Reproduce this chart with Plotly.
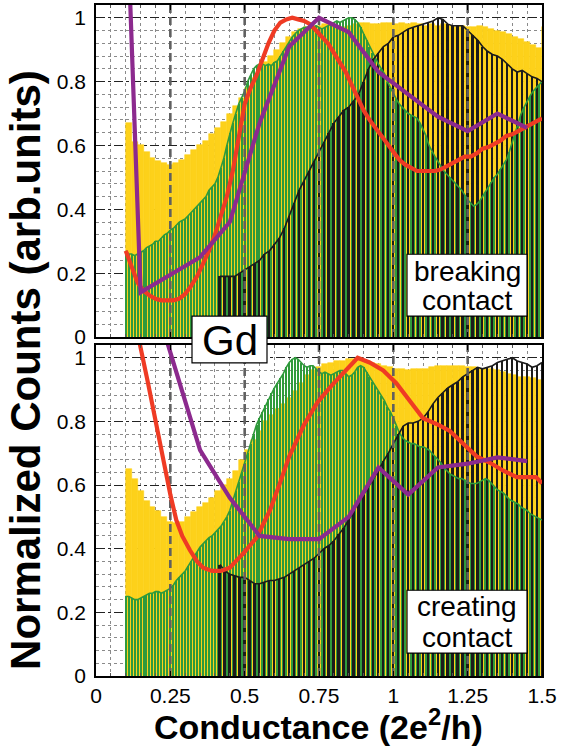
import numpy as np
import plotly.graph_objects as go

# ---------------- data ----------------
# green histogram (0.01 bins, x = 0.10 ... 1.50)
green_top = [0.27,0.26,0.26,0.255,0.26,0.265,0.27,0.28,0.285,0.29,
             0.30,0.30,0.31,0.32,0.325,0.335,0.34,0.35,0.36,0.365,
             0.37,0.38,0.39,0.40,0.41,0.42,0.43,0.44,0.46,0.47,
             0.48,0.50,0.53,0.56,0.60,0.64,0.67,0.70,0.73,0.75,
             0.77,0.80,0.82,0.84,0.85,0.855,0.855,0.85,0.855,0.85,
             0.86,0.865,0.88,0.895,0.91,0.925,0.94,0.95,0.96,0.965,
             0.97,0.97,0.965,0.97,0.975,0.97,0.965,0.97,0.975,0.98,
             0.985,0.99,0.985,0.99,0.995,1.0,1.0,0.995,0.985,0.97,
             0.95,0.93,0.91,0.89,0.87,0.855,0.84,0.825,0.80,0.78,
             0.76,0.745,0.73,0.72,0.71,0.70,0.695,0.69,0.685,0.67,
             0.65,0.63,0.60,0.58,0.565,0.55,0.535,0.52,0.51,0.50,
             0.49,0.48,0.47,0.46,0.445,0.43,0.42,0.41,0.415,0.425,
             0.44,0.455,0.47,0.485,0.50,0.51,0.525,0.54,0.555,0.58,
             0.61,0.64,0.67,0.70,0.72,0.74,0.755,0.77,0.78,0.79,0.80]
green_bot = [0.25,0.25,0.245,0.24,0.24,0.245,0.25,0.255,0.26,0.26,
             0.265,0.265,0.26,0.265,0.27,0.275,0.285,0.30,0.31,0.32,
             0.33,0.345,0.36,0.375,0.39,0.405,0.415,0.425,0.435,0.44,
             0.45,0.46,0.47,0.485,0.50,0.52,0.55,0.58,0.61,0.64,
             0.67,0.70,0.73,0.76,0.79,0.81,0.83,0.85,0.87,0.89,
             0.905,0.92,0.935,0.95,0.97,0.985,0.995,1.0,0.995,0.985,
             0.975,0.97,0.975,0.975,0.965,0.955,0.95,0.955,0.95,0.945,
             0.95,0.955,0.96,0.96,0.95,0.94,0.945,0.955,0.97,0.975,
             0.97,0.955,0.94,0.925,0.91,0.895,0.88,0.865,0.845,0.83,
             0.81,0.785,0.765,0.75,0.74,0.735,0.73,0.73,0.725,0.72,
             0.72,0.715,0.71,0.70,0.69,0.68,0.67,0.655,0.645,0.635,
             0.63,0.625,0.62,0.62,0.615,0.61,0.605,0.605,0.605,0.61,
             0.615,0.62,0.615,0.605,0.595,0.585,0.58,0.575,0.565,0.555,
             0.55,0.545,0.54,0.53,0.525,0.52,0.51,0.505,0.50,0.495,0.49]
green_x = np.round(np.arange(0.10, 1.5001, 0.01), 2)

# yellow histogram (0.02 bins, left edges x = 0.10 ... 1.50)
yellow_top = [0.67,0.61,0.60,0.58,0.56,0.55,0.545,0.54,0.545,0.555,
              0.57,0.585,0.60,0.615,0.635,0.655,0.675,0.70,0.725,0.75,
              0.78,0.81,0.835,0.86,0.88,0.90,0.92,0.94,0.955,0.965,
              0.97,0.975,0.975,0.98,0.98,0.975,0.97,0.975,0.98,0.985,
              0.985,0.98,0.98,0.985,0.985,0.98,0.985,0.98,0.985,0.98,
              0.975,0.98,0.975,0.98,0.975,0.97,0.975,0.97,0.97,0.975,
              0.97,0.965,0.96,0.955,0.95,0.94,0.935,0.925,0.915,0.905,0.97]
yellow_bot = [0.65,0.62,0.58,0.55,0.53,0.52,0.50,0.485,0.48,0.485,
              0.50,0.515,0.53,0.545,0.56,0.58,0.60,0.62,0.645,0.68,
              0.71,0.74,0.77,0.80,0.82,0.84,0.855,0.875,0.895,0.92,
              0.945,0.96,0.97,0.98,0.985,0.99,0.99,0.995,0.995,0.995,
              0.99,0.985,0.98,0.975,0.97,0.965,0.965,0.96,0.965,0.965,
              0.965,0.97,0.975,0.975,0.975,0.975,0.975,0.97,0.97,0.965,
              0.965,0.965,0.96,0.955,0.95,0.945,0.94,0.94,0.935,0.93,0.93]
yellow_x = np.round(np.arange(0.10, 1.5001, 0.02), 2)

# black histogram (1/60 bins, x = 25/60 ... 90/60)
black_top = [0.19,0.19,0.19,0.19,0.20,0.21,0.22,0.23,0.24,0.26,
             0.27,0.29,0.31,0.34,0.38,0.42,0.46,0.49,0.52,0.55,
             0.58,0.61,0.64,0.67,0.69,0.71,0.72,0.74,0.76,0.80,
             0.84,0.87,0.89,0.91,0.92,0.94,0.945,0.955,0.965,0.97,
             0.975,0.98,0.985,0.99,1.0,0.995,0.98,0.975,0.975,0.975,
             0.96,0.945,0.93,0.91,0.895,0.885,0.88,0.87,0.855,0.84,
             0.83,0.835,0.825,0.815,0.81,0.80]
black_bot = [0.35,0.33,0.32,0.315,0.31,0.31,0.30,0.29,0.29,0.295,
             0.30,0.30,0.305,0.31,0.32,0.33,0.34,0.35,0.36,0.37,
             0.385,0.40,0.41,0.425,0.445,0.465,0.49,0.52,0.55,0.57,
             0.595,0.62,0.645,0.675,0.70,0.73,0.76,0.785,0.795,0.795,
             0.80,0.81,0.83,0.855,0.875,0.89,0.905,0.915,0.925,0.94,
             0.95,0.96,0.97,0.965,0.97,0.975,0.985,0.99,0.995,1.0,
             0.99,0.985,0.98,0.97,0.975,0.985]
black_x = np.arange(25, 91) / 60.0

# red curves
red_top_x = [0.10,0.12,0.14,0.16,0.18,0.20,0.22,0.24,0.26,0.28,0.30,0.32,0.34,0.36,0.38,
             0.40,0.42,0.44,0.46,0.48,0.50,0.52,0.54,0.56,0.58,0.60,0.62,0.64,0.66,0.68,
             0.70,0.72,0.74,0.76,0.78,0.80,0.82,0.84,0.86,0.88,0.90,0.92,0.94,0.96,0.98,
             1.00,1.02,1.04,1.06,1.08,1.10,1.12,1.14,1.16,1.18,1.20,1.22,1.24,1.26,1.28,
             1.30,1.32,1.34,1.36,1.38,1.40,1.42,1.44,1.46,1.48,1.50]
red_top_y = [0.27,0.22,0.17,0.145,0.13,0.12,0.115,0.115,0.115,0.12,0.135,0.16,0.19,0.23,0.27,
             0.32,0.38,0.44,0.52,0.63,0.73,0.78,0.82,0.87,0.92,0.96,0.985,0.995,1.0,0.995,
             0.99,0.98,0.96,0.94,0.92,0.89,0.86,0.83,0.79,0.75,0.71,0.68,0.655,0.63,0.60,
             0.575,0.555,0.54,0.53,0.52,0.52,0.52,0.52,0.525,0.535,0.545,0.555,0.565,0.565,0.575,
             0.59,0.595,0.605,0.615,0.63,0.635,0.645,0.655,0.665,0.675,0.685]
red_bot_x = [0.12,0.148,0.175,0.20,0.225,0.25,0.27,0.29,0.316,0.34,0.36,0.39,0.42,0.45,0.47,
             0.50,0.54,0.56,0.585,0.62,0.65,0.70,0.745,0.79,0.83,0.88,0.92,0.966,1.01,1.057,
             1.10,1.15,1.19,1.235,1.28,1.325,1.37,1.415,1.48,1.50]
red_bot_y = [1.20,1.04,0.92,0.80,0.69,0.57,0.49,0.44,0.395,0.36,0.34,0.33,0.33,0.34,0.36,
             0.39,0.435,0.47,0.52,0.61,0.69,0.79,0.86,0.91,0.95,1.0,0.985,0.96,0.92,0.865,
             0.81,0.79,0.77,0.73,0.69,0.67,0.645,0.625,0.625,0.605]

# purple curves
pur_top_x = [0.10,0.15,0.25,0.35,0.45,0.55,0.65,0.75,0.85,0.95,1.05,1.15,1.25,1.35,1.45]
pur_top_y = [1.44,0.14,0.195,0.25,0.36,0.67,0.91,1.0,0.955,0.83,0.76,0.69,0.645,0.70,0.655]
pur_bot_x = [0.20,0.35,0.45,0.55,0.65,0.75,0.85,0.95,1.05,1.15,1.25,1.35,1.45]
pur_bot_y = [1.17,0.71,0.56,0.44,0.43,0.43,0.50,0.655,0.57,0.655,0.667,0.687,0.675]

x_ticks = [0, 0.25, 0.5, 0.75, 1, 1.25, 1.5]
x_ticklabels = ["0", "0.25", "0.5", "0.75", "1", "1.25", "1.5"]
y_ticks = [0, 0.2, 0.4, 0.6, 0.8, 1]
y_ticklabels = ["0", "0.2", "0.4", "0.6", "0.8", "1"]

# ---------------- style ----------------
YELLOW = "#fdd11a"
GREEN = "#2f9a3c"
BLACK = "#1b1b1b"
RED = "#ef3b24"
PURPLE = "#8c2a8e"
FONT = "Liberation Sans, Arial, sans-serif"

W, H = 579, 751
ML, MR, MT, MB = 96, 37, 3, 75
YMAX = 1.04

fig = go.Figure()

panels = [
    ("x", "y", yellow_top, green_top, black_top, red_top_x, red_top_y, pur_top_x, pur_top_y),
    ("x2", "y2", yellow_bot, green_bot, black_bot, red_bot_x, red_bot_y, pur_bot_x, pur_bot_y),
]

for xa, ya, yel, grn, blk, rx, ry, px, py in panels:
    fig.add_trace(go.Bar(x=yellow_x, y=yel, width=0.02, offset=0,
                         marker=dict(color=YELLOW, line=dict(width=0.6, color=YELLOW)),
                         xaxis=xa, yaxis=ya, showlegend=False))
    fig.add_trace(go.Bar(x=green_x, y=grn, width=0.0038, marker=dict(color=GREEN, line=dict(width=0)),
                         xaxis=xa, yaxis=ya, showlegend=False))
    fig.add_trace(go.Bar(x=black_x, y=blk, width=0.0062, marker=dict(color=BLACK, line=dict(width=0)),
                         xaxis=xa, yaxis=ya, showlegend=False))

for xa, ya, yel, grn, blk, rx, ry, px, py in panels:
    fig.add_trace(go.Scatter(x=green_x, y=grn, mode="lines", line=dict(color=GREEN, width=1.6),
                             xaxis=xa, yaxis=ya, showlegend=False))
    fig.add_trace(go.Scatter(x=black_x, y=blk, mode="lines", line=dict(color=BLACK, width=1.6),
                             xaxis=xa, yaxis=ya, showlegend=False))
    vx, vy = [], []
    for t in x_ticks[1:-1]:
        vx += [t, t, None]
        vy += [0, YMAX, None]
    fig.add_trace(go.Scatter(x=vx, y=vy, mode="lines", line=dict(color="#606060", width=2.6, dash="8px,4px"),
                             xaxis=xa, yaxis=ya, showlegend=False))
    fig.add_trace(go.Scatter(x=rx, y=ry, mode="lines", line=dict(color=RED, width=4.2),
                             xaxis=xa, yaxis=ya, showlegend=False))
    fig.add_trace(go.Scatter(x=px, y=py, mode="lines", line=dict(color=PURPLE, width=4.2),
                             xaxis=xa, yaxis=ya, showlegend=False))

plot_h = H - MT - MB
def py2paper(p):
    return (H - MB - p) / plot_h
def px2paper(p):
    return (p - ML) / (W - ML - MR)

top_dom = [py2paper(336), 1.0]
bot_dom = [0.0, py2paper(344)]

xcommon = dict(range=[0, 1.5], tickvals=x_ticks, ticktext=x_ticklabels,
               showgrid=True, gridcolor="rgba(0,0,0,0)",
               minor=dict(dtick=0.05, showgrid=True, griddash="dot", gridcolor="#8a8a8a", gridwidth=1,
                          ticks="inside", ticklen=3, tickcolor="#555"),
               showline=True, linecolor="black", linewidth=1.5, mirror="allticks",
               ticks="inside", ticklen=5, tickcolor="black",
               tickfont=dict(family=FONT, size=21, color="black"), zeroline=False)
ycommon = dict(range=[0, YMAX], tickvals=y_ticks, ticktext=y_ticklabels,
               showgrid=True, gridcolor="#222", griddash="dashdot", gridwidth=1,
               minor=dict(dtick=0.04, tick0=0, showgrid=True, griddash="dot", gridcolor="#8a8a8a", gridwidth=1),
               showline=True, linecolor="black", linewidth=1.5, mirror=True,
               ticks="", tickfont=dict(family=FONT, size=21, color="black"), zeroline=False,
               ticklabelstandoff=4)

fig.update_layout(
    width=W, height=H,
    margin=dict(l=ML, r=MR, t=MT, b=MB),
    paper_bgcolor="white", plot_bgcolor="white",
    barmode="overlay", bargap=0,
    xaxis=dict(xcommon, domain=[0, 1], anchor="y", showticklabels=False),
    yaxis=dict(ycommon, domain=top_dom, anchor="x"),
    xaxis2=dict(xcommon, domain=[0, 1], anchor="y2", matches="x"),
    yaxis2=dict(ycommon, domain=bot_dom, anchor="x2"),
    font=dict(family=FONT, color="black"),
)

shapes = []
annotations = []

def box(x0, y0, x1, y1):
    shapes.append(dict(type="rect", xref="paper", yref="paper",
                       x0=px2paper(x0), x1=px2paper(x1), y0=py2paper(y1), y1=py2paper(y0),
                       fillcolor="white", line=dict(color="black", width=1.2), layer="above"))

def label(text, cx, cy, size):
    annotations.append(dict(text=text, xref="paper", yref="paper", x=px2paper(cx), y=py2paper(cy),
                            xanchor="center", yanchor="middle", showarrow=False,
                            font=dict(family=FONT, size=size, color="black")))

box(192, 315, 267, 362)
label("Gd", 229.5, 339, 42)
box(407, 253, 527, 315)
label("breaking", 467, 270, 28)
label("contact", 467, 299, 28)
box(407, 590, 527, 653)
label("creating", 467, 606, 28)
label("contact", 467, 637, 28)

annotations.append(dict(text="<b>Conductance (2e<sup>2</sup>/h)</b>", xref="paper", yref="paper",
                        x=px2paper(318), y=py2paper(725), xanchor="center", yanchor="middle",
                        showarrow=False, font=dict(family=FONT, size=34, color="black")))
annotations.append(dict(text="<b>Normalized Counts (arb.units)</b>", xref="paper", yref="paper",
                        x=px2paper(26), y=py2paper(369), xanchor="center", yanchor="middle", textangle=-90,
                        showarrow=False, font=dict(family=FONT, size=42, color="black")))

fig.update_layout(shapes=shapes, annotations=annotations)
fig.write_html("out.html")
